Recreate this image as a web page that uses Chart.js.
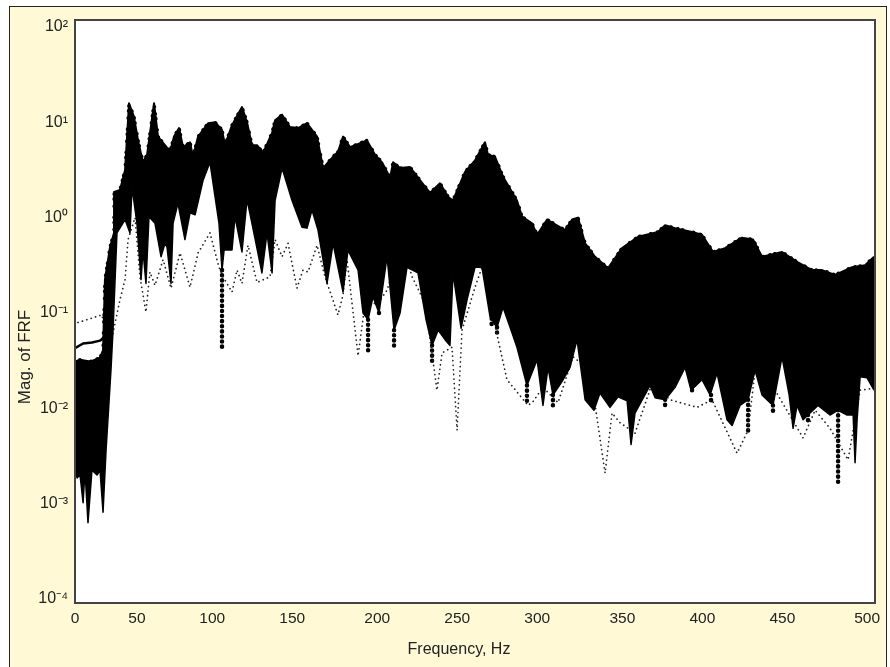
<!DOCTYPE html>
<html>
<head>
<meta charset="utf-8">
<title>Mag. of FRF</title>
<script src="https://cdn.jsdelivr.net/npm/chart.js@4"></script>
<style>
  html, body { margin: 0; padding: 0; background: #fff; overflow: hidden; }
  .panel { position: absolute; left: 9px; top: 6px; width: 876px; height: 680px; background: #fff9d6; border: 1.5px solid #222; }
  canvas { position: absolute; left: 0; top: 0; }
</style>
</head>
<body>
<div class="panel"></div>
<canvas id="chart" width="890" height="667"></canvas>
<script>
// all magnitudes below are log10 readings (decades)
const xTickAt = [0, 39.1, 86.6, 137.1, 190.8, 241.3, 291.8, 345.5, 396, 446.5, 500];
const xTickLabels = ["0", "50", "100", "150", "200", "250", "300", "350", "400", "450", "500"];
const yTickValues = [1e-4, 1e-3, 1e-2, 1e-1, 1, 10, 100];
const yTickLabels = ["10⁻⁴", "10⁻³", "10⁻²", "10⁻¹", "10⁰", "10¹", "10²"];

// top edge of the black band
const upperFreq = [0, 3.2, 9.5, 15.8, 17.7, 18.9, 22.1, 24.6, 24.7, 28.4, 31.6, 34.1, 37.2, 39.8, 42.9, 45.5, 49.9, 52.4, 56.8, 60, 62.5, 65.7, 68.2, 72.6, 74.5, 77.7, 84, 88.4, 92.8, 94.7, 99.1, 105.4, 108.6, 111.7, 114.9, 118.7, 124.4, 126.3, 130.7, 135.7, 140.8, 146.5, 152.8, 156.6, 162.9, 166, 169.2, 173.6, 184.3, 189.4, 193.8, 198.9, 200.8, 205.2, 211.5, 216.5, 224.1, 230.4, 235.5, 238.6, 246.2, 252.5, 258.8, 260.7, 265.1, 270.2, 279, 282.2, 288.5, 291.7, 298, 309.3, 313.8, 317.5, 322, 328.3, 336.5, 345.3, 355.4, 368, 372.5, 378.8, 389.5, 395.8, 402.8, 410.3, 421, 428, 433.7, 446.3, 456.4, 465.3, 471.6, 479.8, 490.5, 498.7, 504.4];
const upperMag = [-1.51, -1.49, -1.51, -1.47, -1.39, -0.65, -0.31, -0.16, 0.27, 0.29, 0.5, 1.2, 1.06, 0.81, 0.58, 0.66, 1.2, 0.85, 0.76, 0.69, 0.85, 0.94, 0.74, 0.79, 0.64, 0.85, 0.99, 1, 0.92, 0.76, 0.97, 1.16, 1, 0.76, 0.76, 0.68, 0.89, 1.02, 1.08, 0.95, 0.94, 0.99, 0.85, 0.52, 0.64, 0.69, 0.85, 0.74, 0.81, 0.66, 0.58, 0.42, 0.58, 0.52, 0.53, 0.42, 0.26, 0.36, 0.22, 0.18, 0.48, 0.6, 0.79, 0.66, 0.64, 0.43, 0.18, 0.01, -0.06, -0.18, -0.02, -0.13, -0.02, 0, -0.27, -0.41, -0.53, -0.32, -0.2, -0.15, -0.08, -0.11, -0.15, -0.18, -0.36, -0.32, -0.21, -0.23, -0.41, -0.36, -0.47, -0.55, -0.55, -0.6, -0.52, -0.5, -0.41];

// bottom edge of the black band
const lowerFreq = [0, 1.3, 3.2, 5.1, 6.3, 8.2, 10.7, 13.9, 15.8, 17.7, 19.6, 22.7, 24, 26.5, 31.6, 34.7, 36, 39.1, 41.7, 42.9, 44.8, 46.7, 50.5, 54.3, 56.8, 58.1, 60.6, 61.9, 65, 69.4, 72.6, 75.8, 80.8, 85.2, 88.4, 90.9, 92.8, 94.1, 99.1, 101, 105.4, 108.6, 111.7, 118, 121.2, 124.4, 126.3, 130.7, 137, 143.3, 146.5, 149.6, 153.4, 159.1, 162.9, 169.2, 172.3, 178.7, 181.8, 185, 188.1, 191.9, 197, 201.4, 205.2, 209.6, 216.5, 221.6, 225.4, 229.2, 233.6, 236.7, 238.6, 243.7, 247.5, 252.5, 256.9, 262, 266.4, 270.2, 275.9, 279, 285.3, 291.7, 295.4, 298.6, 301.7, 307.4, 312.5, 316.9, 322, 327.6, 331.4, 337.7, 342.8, 348.5, 351, 353.5, 363, 366.2, 372.5, 378.8, 385.1, 388.9, 395.8, 400.9, 405.3, 411.6, 414.8, 419.8, 424.9, 429.3, 433.7, 440.6, 446.3, 450.8, 453.3, 455.8, 459.6, 462.7, 469, 476.6, 481.7, 487.4, 491.2, 492.4, 493.7, 495.6, 500, 504.4];
const lowerMag = [-2.65, -2.73, -2.7, -2.99, -2.65, -3.2, -2.65, -2.7, -2.65, -3.09, -2.44, -1.6, -1.18, -0.16, -0.02, -0.16, 0.32, -0.06, -0.65, -0.34, -0.69, 0.01, -0.06, -0.41, -0.27, -0.31, -0.69, -0.06, 0.15, -0.23, 0.05, 0.03, 0.39, 0.58, 0.22, -0.06, -0.55, -0.34, -0.34, 0.01, -0.36, 0.19, -0.06, -0.58, -0.16, -0.58, 0.18, 0.52, 0.18, -0.1, -0.11, 0.08, -0.13, -0.69, -0.27, -0.78, -0.34, -0.55, -1, -1.07, -0.83, -1, -0.41, -1.18, -1, -0.52, -0.58, -1.07, -1.34, -1.18, -1.28, -1.34, -0.58, -1.16, -0.86, -0.52, -0.52, -1.04, -1.15, -0.94, -1.21, -1.36, -1.76, -1.49, -1.97, -1.57, -1.86, -1.72, -1.57, -1.28, -1.91, -2.02, -1.84, -1.99, -1.88, -1.92, -2.38, -2.05, -1.76, -1.89, -1.91, -1.78, -1.57, -1.81, -1.7, -1.86, -1.63, -2.12, -2.18, -1.97, -1.91, -1.6, -1.86, -1.97, -1.46, -1.86, -2.21, -1.97, -2.12, -2.07, -1.97, -2.07, -2.02, -2.07, -2.07, -2.57, -2.12, -1.67, -1.68, -1.81];

// faint dotted trace, lowest of the family
const faintFreq = [1.9, 17, 22.1, 24, 28.4, 31.6, 33.5, 37.9, 41, 44.8, 47.3, 50.5, 55.6, 60.6, 66.3, 72.6, 77.7, 85.2, 90.9, 93.4, 99.1, 102.3, 105.4, 109.2, 114.9, 123.1, 126.3, 130.7, 134.5, 140.1, 143.9, 147.1, 152.8, 157.8, 166, 169.2, 171.7, 178.7, 183.1, 191.3, 197, 206.4, 212.8, 221, 228.5, 231.7, 238, 241.2, 244.3, 252.5, 256.9, 272.7, 286, 289.1, 295.4, 304.9, 314.4, 325.1, 334.6, 339, 344, 353.5, 364.3, 375.6, 392.7, 402.1, 417.9, 424.9, 429.3, 441.9, 459.6, 467.2, 476.6, 488, 495.6, 504.4];
const faintMag = [-1.1, -1.02, -1.44, -1.21, -0.86, -0.65, -0.23, 0, -0.62, -0.99, -0.57, -0.71, -0.44, -0.74, -0.37, -0.73, -0.37, -0.16, -0.52, -0.62, -0.78, -0.55, -0.69, -0.29, -0.68, -0.62, -0.23, -0.41, -0.27, -0.74, -0.55, -0.57, -0.29, -0.62, -1.02, -0.81, -0.44, -1.45, -0.9, -0.9, -0.76, -0.26, -0.62, -0.9, -1.81, -1.42, -1.36, -2.23, -1.18, -0.73, -0.52, -1.7, -1.97, -1.93, -1.78, -1.94, -1.46, -1.6, -2.68, -2.05, -2.15, -2.26, -1.74, -1.91, -1.99, -1.91, -2.47, -2.23, -1.6, -1.81, -2.31, -2.02, -2.21, -2.54, -1.81, -1.79];

// heavy dotted dips below the band, null breaks the line
const dipFreq = [92.8, 92.8, null, 185, 185, null, 191.9, 191.9, null, 201.4, 201.4, null, 225.4, 225.4, null, 263, 263, null, 266.4, 266.4, null, 285.3, 285.3, null, 301.7, 301.7, null, 372.5, 372.5, null, 389.5, 389.5, null, 401.5, 401.5, null, 424.9, 424.9, null, 440.6, 440.6, null, 462.7, 462.7, null, 481.7, 481.7];
const dipMag = [-0.55, -1.39, null, -1.07, -1.44, null, -1, -1.05, null, -1.18, -1.39, null, -1.34, -1.52, null, -0.9, -1.15, null, -1.15, -1.23, null, -1.76, -1.97, null, -1.86, -1.97, null, -1.91, -1.97, null, -1.81, -1.86, null, -1.86, -1.94, null, -1.91, -2.25, null, -1.97, -2.04, null, -2.07, -2.17, null, -2.02, -2.78];

// solid trace that leaves the band near 0 Hz
const lowFreqTraceFreq = [0, 5.1, 10.7, 15.8, 18.3];
const lowFreqTraceMag = [-1.37, -1.32, -1.31, -1.29, -1.26];

const points = (xs, ys) => xs.map((x, i) => (x === null ? { x: NaN, y: null } : { x: x, y: Math.pow(10, ys[i]) }));

const panelPlugin = {
  id: "panel",
  beforeDraw(chart) {
    const { ctx, chartArea: a } = chart;
    ctx.save();
    ctx.fillStyle = "#fff";
    ctx.fillRect(a.left, a.top, a.width, a.height);
    ctx.restore();
  },
  afterDraw(chart) {
    const { ctx, chartArea: a } = chart;
    ctx.save();
    ctx.strokeStyle = "#444";
    ctx.lineWidth = 2;
    ctx.strokeRect(a.left, a.top, a.width, a.height);
    // axis titles sit off-centre in the original, so they are placed by hand
    ctx.fillStyle = "#222";
    ctx.textAlign = "center";
    ctx.textBaseline = "middle";
    ctx.font = '16px "Liberation Sans"';
    ctx.fillText("Frequency, Hz", 459, 650);
    ctx.translate(25, 357);
    ctx.rotate(-Math.PI / 2);
    ctx.font = '17px "Liberation Sans"';
    ctx.fillText("Mag. of FRF", 0, 0);
    ctx.restore();
  },
};

const dots = { borderCapStyle: "round", fill: false };

new Chart(document.getElementById("chart"), {
  type: "line",
  data: {
    datasets: [
      { label: "upper", data: points(upperFreq, upperMag), borderColor: "#000", borderWidth: 2, backgroundColor: "#000", fill: "+1" },
      { label: "lower", data: points(lowerFreq, lowerMag), borderColor: "#000", borderWidth: 1.5, fill: false },
      { label: "upper dots", data: points(upperFreq, upperMag), borderColor: "#000", borderWidth: 3.5, borderDash: [0.1, 5, 0.1, 11, 0.1, 7], ...dots },
      { label: "faint", data: points(faintFreq, faintMag), borderColor: "#222", borderWidth: 1.7, borderDash: [0.1, 4.5], ...dots },
      { label: "dips", data: points(dipFreq, dipMag), borderColor: "#000", borderWidth: 4.5, borderDash: [0.1, 5], ...dots },
      { label: "low", data: points(lowFreqTraceFreq, lowFreqTraceMag), borderColor: "#000", borderWidth: 2.5, fill: false },
    ],
  },
  options: {
    responsive: false,
    animation: false,
    parsing: { xAxisKey: "x", yAxisKey: "y" },
    layout: { padding: { top: 20, right: 15, bottom: 0, left: 0 } },
    elements: { point: { radius: 0 }, line: { tension: 0, borderJoinStyle: "round" } },
    plugins: { legend: { display: false }, tooltip: { enabled: false } },
    scales: {
      x: {
        type: "linear",
        min: 0,
        max: 505,
        grid: { display: false, drawTicks: false },
        border: { display: false },
        afterBuildTicks: (axis) => { axis.ticks = xTickAt.map((v) => ({ value: v })); },
        afterFit: (axis) => { axis.height = 64; },
        ticks: {
          autoSkip: false,
          maxRotation: 0,
          padding: 6,
          color: "#222",
          font: { family: "Liberation Sans", size: 15.5 },
          callback: (v, i) => xTickLabels[i],
        },
      },
      y: {
        type: "logarithmic",
        min: 9.08e-5,
        max: 118.3,
        grid: { display: false, drawTicks: false },
        border: { display: false },
        afterBuildTicks: (axis) => { axis.ticks = yTickValues.map((v) => ({ value: v })); },
        afterFit: (axis) => { axis.width = 75; },
        ticks: {
          autoSkip: false,
          padding: 7,
          color: "#222",
          font: { family: "Liberation Sans", size: 16 },
          callback: (v, i) => yTickLabels[i],
        },
      },
    },
  },
  plugins: [panelPlugin],
});
</script>
</body>
</html>
